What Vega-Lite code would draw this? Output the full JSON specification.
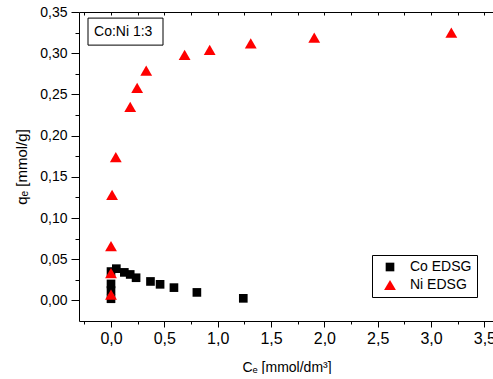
{
  "$schema": "https://vega.github.io/schema/vega-lite/v6.json",
  "width": 415,
  "height": 309,
  "padding": {"left": 14, "top": 5, "right": 0, "bottom": 0},
  "autosize": {"type": "pad"},
  "background": "white",
  "data": {
    "values": [
      {"Ce": 0.0, "qe": 0.002, "series": "Co EDSG"},
      {"Ce": 0.0, "qe": 0.012, "series": "Co EDSG"},
      {"Ce": 0.0, "qe": 0.020, "series": "Co EDSG"},
      {"Ce": 0.0, "qe": 0.035, "series": "Co EDSG"},
      {"Ce": 0.05, "qe": 0.0385, "series": "Co EDSG"},
      {"Ce": 0.125, "qe": 0.034, "series": "Co EDSG"},
      {"Ce": 0.18, "qe": 0.0315, "series": "Co EDSG"},
      {"Ce": 0.235, "qe": 0.0275, "series": "Co EDSG"},
      {"Ce": 0.37, "qe": 0.023, "series": "Co EDSG"},
      {"Ce": 0.46, "qe": 0.0195, "series": "Co EDSG"},
      {"Ce": 0.59, "qe": 0.0155, "series": "Co EDSG"},
      {"Ce": 0.805, "qe": 0.0097, "series": "Co EDSG"},
      {"Ce": 1.24, "qe": 0.0025, "series": "Co EDSG"},
      {"Ce": 0.0, "qe": 0.007, "series": "Ni EDSG"},
      {"Ce": 0.0, "qe": 0.033, "series": "Ni EDSG"},
      {"Ce": 0.0, "qe": 0.066, "series": "Ni EDSG"},
      {"Ce": 0.01, "qe": 0.128, "series": "Ni EDSG"},
      {"Ce": 0.045, "qe": 0.174, "series": "Ni EDSG"},
      {"Ce": 0.18, "qe": 0.235, "series": "Ni EDSG"},
      {"Ce": 0.245, "qe": 0.258, "series": "Ni EDSG"},
      {"Ce": 0.33, "qe": 0.279, "series": "Ni EDSG"},
      {"Ce": 0.69, "qe": 0.298, "series": "Ni EDSG"},
      {"Ce": 0.925, "qe": 0.304, "series": "Ni EDSG"},
      {"Ce": 1.31, "qe": 0.312, "series": "Ni EDSG"},
      {"Ce": 1.905, "qe": 0.319, "series": "Ni EDSG"},
      {"Ce": 3.19, "qe": 0.325, "series": "Ni EDSG"}
    ]
  },
  "config": {
    "view": {"stroke": null},
    "font": "Liberation Sans",
    "axis": {
      "grid": false,
      "domainColor": "black",
      "tickColor": "black",
      "labelColor": "black",
      "titleColor": "black",
      "labelFont": "Liberation Sans",
      "titleFont": "Liberation Sans",
      "labelFontSize": 14,
      "titleFontSize": 14,
      "titleFontWeight": "normal",
      "domainWidth": 1,
      "tickWidth": 1
    },
    "legend": {
      "labelFont": "Liberation Sans",
      "labelFontSize": 14,
      "labelColor": "black"
    }
  },
  "layer": [
    {
      "mark": {"type": "point", "opacity": 0},
      "encoding": {
        "x": {
          "field": "Ce", "type": "quantitative",
          "scale": {"domain": [-0.3, 3.59], "nice": false, "zero": false},
          "axis": {"orient": "bottom", "values": [-0.25, 0.25, 0.75, 1.25, 1.75, 2.25, 2.75, 3.25], "labels": false, "domain": false, "tickSize": 3, "title": null}
        },
        "y": {
          "field": "qe", "type": "quantitative",
          "scale": {"domain": [-0.025, 0.35], "nice": false, "zero": false},
          "axis": {"orient": "left", "values": [0.025, 0.075, 0.125, 0.175, 0.225, 0.275, 0.325], "labels": false, "domain": false, "tickSize": 4, "title": null}
        }
      }
    },
    {
      "mark": {"type": "point", "opacity": 0},
      "encoding": {
        "x": {
          "field": "Ce", "type": "quantitative",
          "scale": {"domain": [-0.3, 3.59], "nice": false, "zero": false},
          "axis": {"orient": "top", "values": [-0.25, 0, 0.25, 0.5, 0.75, 1, 1.25, 1.5, 1.75, 2, 2.25, 2.5, 2.75, 3, 3.25, 3.5], "labels": false, "domain": true, "tickSize": -3, "title": null}
        },
        "y": {
          "field": "qe", "type": "quantitative",
          "scale": {"domain": [-0.025, 0.35], "nice": false, "zero": false},
          "axis": null
        }
      }
    },
    {
      "data": {"values": [{"x1": -0.2156, "x2": 0.4875, "y1": 0.3098, "y2": 0.3426}]},
      "mark": {"type": "rect", "fill": "white", "stroke": "black", "strokeWidth": 1},
      "encoding": {
        "x": {"field": "x1", "type": "quantitative", "scale": {"domain": [-0.3, 3.59], "nice": false, "zero": false}, "axis": null},
        "x2": {"field": "x2"},
        "y": {"field": "y1", "type": "quantitative", "scale": {"domain": [-0.025, 0.35], "nice": false, "zero": false}, "axis": null},
        "y2": {"field": "y2"}
      }
    },
    {
      "data": {"values": [{"x": -0.159, "y": 0.3262, "label": "Co:Ni 1:3"}]},
      "mark": {"type": "text", "align": "left", "baseline": "middle", "fontSize": 14, "font": "Liberation Sans", "color": "black"},
      "encoding": {
        "x": {"field": "x", "type": "quantitative", "scale": {"domain": [-0.3, 3.59], "nice": false, "zero": false}, "axis": null},
        "y": {"field": "y", "type": "quantitative", "scale": {"domain": [-0.025, 0.35], "nice": false, "zero": false}, "axis": null},
        "text": {"field": "label"}
      }
    },
    {
      "mark": {"type": "point", "filled": true, "opacity": 1},
      "encoding": {
        "x": {
          "field": "Ce", "type": "quantitative",
          "scale": {"domain": [-0.3, 3.59], "nice": false, "zero": false},
          "axis": {
            "orient": "bottom",
            "values": [0, 0.5, 1, 1.5, 2, 2.5, 3, 3.5],
            "format": ".1f",
            "labelExpr": "replace(datum.label, '.', ',')",
            "labelFontSize": 16,
            "tickSize": 6, "labelPadding": 3,
            "title": "Cₑ [mmol/dm³]", "titlePadding": 14, "titleFontSize": 14
          }
        },
        "y": {
          "field": "qe", "type": "quantitative",
          "scale": {"domain": [-0.025, 0.35], "nice": false, "zero": false},
          "axis": {
            "orient": "left",
            "values": [0, 0.05, 0.1, 0.15, 0.2, 0.25, 0.3, 0.35],
            "format": ".2f",
            "labelExpr": "replace(datum.label, '.', ',')",
            "tickSize": 8, "labelPadding": 4,
            "title": "qₑ [mmol/g]", "titlePadding": 10, "titleFontSize": 15
          }
        },
        "color": {
          "field": "series", "type": "nominal",
          "scale": {"domain": ["Co EDSG", "Ni EDSG"], "range": ["#000000", "#ff0000"]},
          "legend": {
            "title": null, "orient": "none", "legendX": 293, "legendY": 243,
            "strokeColor": "black", "padding": 5, "rowPadding": 4,
            "symbolOffset": 6, "labelOffset": 13, "labelFontSize": 14,
            "symbolOpacity": 1,
            "encode": {"symbols": {"update": {"size": {"signal": "datum.value === 'Co EDSG' ? 55 : 120"}}}}
          }
        },
        "shape": {
          "field": "series", "type": "nominal",
          "scale": {"domain": ["Co EDSG", "Ni EDSG"], "range": ["square", "triangle-up"]}
        },
        "size": {
          "field": "series", "type": "nominal",
          "scale": {"domain": ["Co EDSG", "Ni EDSG"], "range": [75, 140]},
          "legend": null
        }
      }
    }
  ],
  "resolve": {"axis": {"x": "independent", "y": "independent"}}
}
